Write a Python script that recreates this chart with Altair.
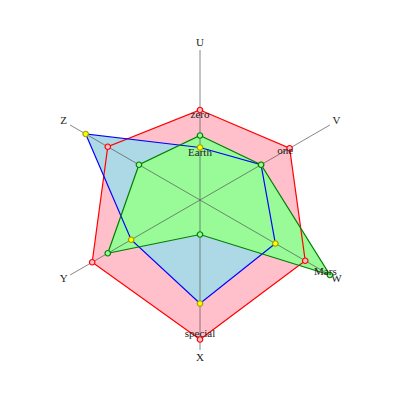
import altair as alt
import pandas as pd

axes_names = ["U", "V", "W", "X", "Y", "Z"]
pink_vals = [60, 69, 81, 93, 83, 71]
blue_vals = [35, 47, 58, 69, 53, 88]
green_vals = [43, 47, 100, 23, 71, 47]

label_texts = ["zero", "one", "Earth", "Mars", "special"]
label_series = ["pink", "pink", "blue", "green", "pink"]
label_axes = ["U", "V", "U", "W", "X"]

axis_max = 100
axis_label_r = 105
label_inset = 3.5

rows = []
for name, vals in [("pink", pink_vals), ("blue", blue_vals), ("green", green_vals)]:
    for i, (a, v) in enumerate(zip(axes_names, vals)):
        rows.append({"series": name, "axis": a, "idx": i, "value": v})
df = pd.DataFrame(rows)

ax_df = pd.DataFrame({"axis": axes_names, "idx": list(range(len(axes_names)))})

lab_rows = []
for t, s, a in zip(label_texts, label_series, label_axes):
    v = df[(df.series == s) & (df.axis == a)]["value"].iloc[0]
    lab_rows.append({"text": t, "idx": axes_names.index(a), "value": v})
lab_df = pd.DataFrame(lab_rows)

dom = [-128, 128]
xs = alt.Scale(domain=dom, nice=False, zero=False)
ys = alt.Scale(domain=dom, nice=False, zero=False)

def polar(ch, rfield="value"):
    return ch.transform_calculate(
        ang="datum.idx * PI / 3",
    ).transform_calculate(
        px=f"datum.{rfield} * sin(datum.ang)",
        py=f"datum.{rfield} * cos(datum.ang)",
    )

base = alt.Chart(df)
XY = dict(
    x=alt.X("px:Q", scale=xs, axis=None),
    y=alt.Y("py:Q", scale=ys, axis=None),
)

styles = {
    "pink": ("pink", "red", "pink", "red"),
    "blue": ("lightblue", "blue", "yellow", "#a0a000"),
    "green": ("palegreen", "green", "palegreen", "green"),
}
order = ["pink", "blue", "green"]

fills = []
strokes = []
for s in order:
    fill, stroke, pf, ps = styles[s]
    fills.append(
        polar(base.transform_filter(alt.datum.series == s)).mark_line(
            interpolate="linear-closed", fill=fill, strokeOpacity=0, strokeWidth=0
        ).encode(order="idx:Q", **XY)
    )
    strokes.append(
        polar(base.transform_filter(alt.datum.series == s)).mark_line(
            interpolate="linear-closed", stroke=stroke, strokeWidth=1.2
        ).encode(order="idx:Q", **XY)
    )

rules = polar(alt.Chart(ax_df).transform_calculate(r=str(axis_max)), "r").transform_calculate(
    zx="0", zy="0"
).mark_rule(color="#555555", strokeWidth=1, opacity=0.7).encode(
    x=alt.X("zx:Q", scale=xs, axis=None),
    y=alt.Y("zy:Q", scale=ys, axis=None),
    x2="px:Q",
    y2="py:Q",
)

axlabels = polar(alt.Chart(ax_df).transform_calculate(r=str(axis_label_r)), "r").mark_text(
    font="Liberation Serif", fontSize=11, color="#222222", baseline="middle", align="center"
).encode(text="axis:N", **XY)

pts = []
for s in order:
    fill, stroke, pf, ps = styles[s]
    pts.append(
        polar(base.transform_filter(alt.datum.series == s)).mark_point(
            shape="circle", size=30, filled=True, fill=pf, stroke=ps, strokeWidth=1.2, opacity=1
        ).encode(**XY)
    )

labels = polar(
    alt.Chart(lab_df).transform_calculate(lr=f"datum.value - {label_inset}"), "lr"
).mark_text(
    font="Liberation Serif", fontSize=11, color="#222222", baseline="middle", align="center"
).encode(text="text:N", **XY)

chart = alt.layer(*fills, rules, *strokes, axlabels, *pts, labels).properties(
    width=384, height=384, padding=0, autosize=alt.AutoSizeParams(type="none")
).configure_view(stroke=None)

chart.save("out.html", embed_options={"renderer": "svg", "actions": False})
